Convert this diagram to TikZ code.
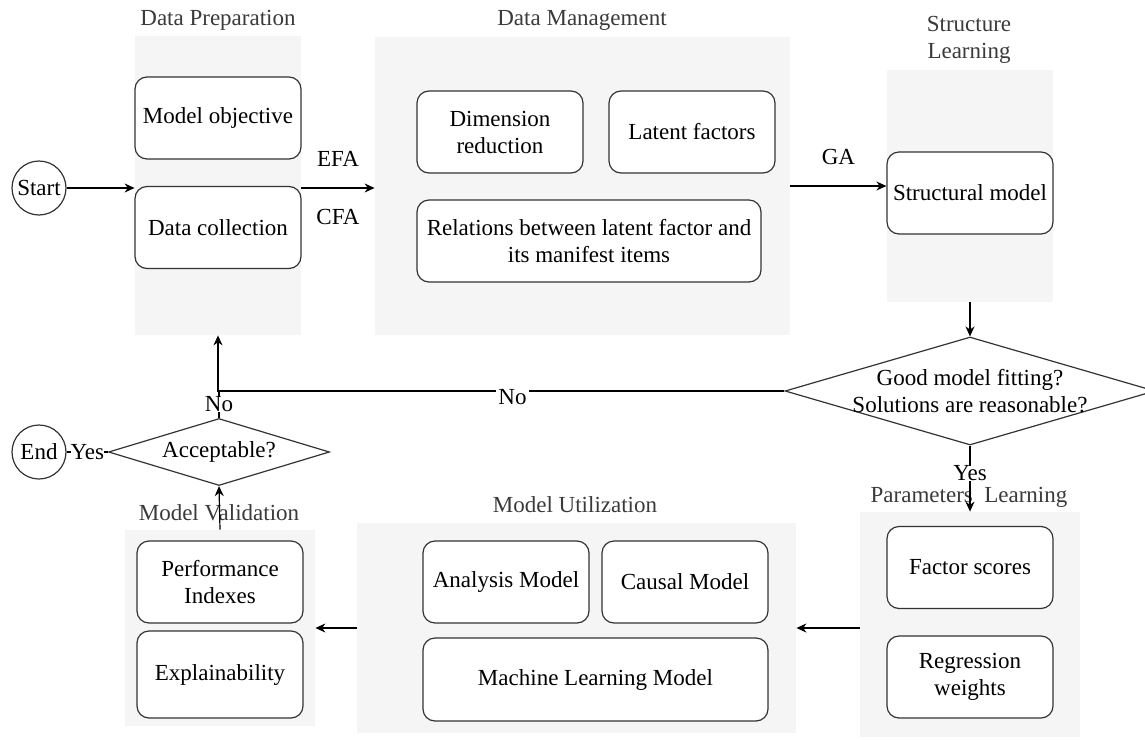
\documentclass[tikz,border=0pt]{standalone}
\usepackage{fontspec}
\setmainfont{Liberation Serif}
\usepackage{tikz}
\usetikzlibrary{arrows.meta,shapes.geometric}
\definecolor{panelgray}{HTML}{F5F5F5}
\definecolor{boxline}{HTML}{333333}
\definecolor{titlegray}{HTML}{3A3A3A}
\tikzset{
  every node/.style={font=\fontsize{11.5}{13.5}\selectfont},
  stage panel/.style={fill=panelgray, draw=none, inner sep=0pt},
  stage box/.style={draw=boxline, fill=white, rounded corners=6pt, line width=0.6pt,
        align=center, minimum width=83pt, minimum height=41pt, inner sep=2pt},
  stage title/.style={text=titlegray, align=center},
  terminal/.style={draw=boxline, circle, line width=0.6pt, minimum size=27pt, inner sep=0pt},
  decision/.style={draw=boxline, diamond, line width=0.6pt, inner sep=0pt},
  flow arrow/.style={-{Stealth[length=5pt,width=4.5pt]}, line width=0.6pt},
  flow line/.style={line width=0.6pt},
  edge label/.style={fill=white, inner sep=1pt}
}
\begin{document}
\begin{tikzpicture}[x=0.5pt, y=-0.5pt]
\useasboundingbox (0,0) rectangle (1145,739);
% grey panels, one per stage
\foreach \nm/\cx/\cy/\w/\h in {prep/218/185.5/83/149.5, mgmt/582.5/186/207.5/149,
    strl/970/186/83/116, parl/970/624.5/110/112.5, util/576.5/628/219.5/105,
    valid/220/628/95/98}
  \node[stage panel, minimum width=\w pt, minimum height=\h pt] (\nm) at (\cx,\cy) {};
% panel titles
\node[stage title] (tprep) at (218,20) {Data Preparation};
\node[stage title] (tmgmt) at (582,20) {Data Management};
\node[stage title] (tstrl) at (969,40) {Structure\\Learning};
\node[stage title] (tparl) at (969,497) {Parameters\ \ Learning};
\node[stage title] (tutil) at (575,505) {Model Utilization};
\node[stage title] (tvalid) at (219,513) {Model Validation};
% boxes
\node[stage box] (obj) at (218,118) {Model objective};
\node[stage box] (coll) at (218,227.5) {Data collection};
\node[stage box] (dimred) at (500,132) {Dimension\\reduction};
\node[stage box] (latent) at (692,132) {Latent factors};
\node[stage box, minimum width=172pt] (relat) at (589,241) {Relations between latent factor and\\its manifest items};
\node[stage box] (struct) at (970,193) {Structural model};
\node[stage box] (fscore) at (970,567.5) {Factor scores};
\node[stage box] (regw) at (970,677) {Regression\\weights};
\node[stage box] (anal) at (506,582) {Analysis Model};
\node[stage box] (causal) at (685,582) {Causal Model};
\node[stage box, minimum width=172.5pt, minimum height=41.5pt] (mlmod) at (595.5,679.5) {Machine Learning Model};
\node[stage box] (perf) at (220,582) {Performance\\Indexes};
\node[stage box, minimum height=43.5pt] (expl) at (220,674.5) {Explainability};
% start, end and the two decisions
\node[terminal] (start) at (39,188) {Start};
\node[terminal] (end) at (39,452) {End};
\node[decision, minimum width=185pt, minimum height=54pt,
  label={[align=center]center:Good model fitting?\\Solutions are reasonable?}] (fitq) at (970,391) {};
\node[decision, minimum width=110.5pt, minimum height=33.5pt,
  label={center:Acceptable?}] (accept) at (219,452) {};
% connectors
\draw[flow arrow] (start.east) -- (start.east -| prep.west);
\draw[flow arrow] (start.east -| prep.east) -- (start.east -| mgmt.west)
  node[midway, above=7pt] (efa) {EFA} node[midway, below=7pt] (cfa) {CFA};
\draw[flow arrow] (mgmt.east) -- (mgmt.east -| struct.west)
  node[midway, above=7pt] (ga) {GA};
\draw[flow arrow] (strl.south) -- (fitq.north);
\draw[flow arrow] (fitq.west) -| (prep.south)
  node[pos=0.24, edge label, yshift=-3pt] (nofit) {No};
\draw[flow arrow] (fitq.south) -- (parl.north)
  node[pos=0.42, edge label, inner sep=0pt] (yesfit) {Yes};
\draw[flow arrow] (util.east -| parl.west) -- (util.east);
\draw[flow arrow] (util.west) -- (valid.east);
\draw[flow arrow] (valid.north) -- (accept.south);
\draw[flow line] (accept.north) -- (accept.north |- fitq.west)
  node[midway, edge label, inner sep=0pt] (noacc) {No};
\draw[flow line] (accept.west) -- (end.east)
  node[midway, edge label, inner sep=0pt] (yesacc) {Yes};
\end{tikzpicture}
\end{document}
